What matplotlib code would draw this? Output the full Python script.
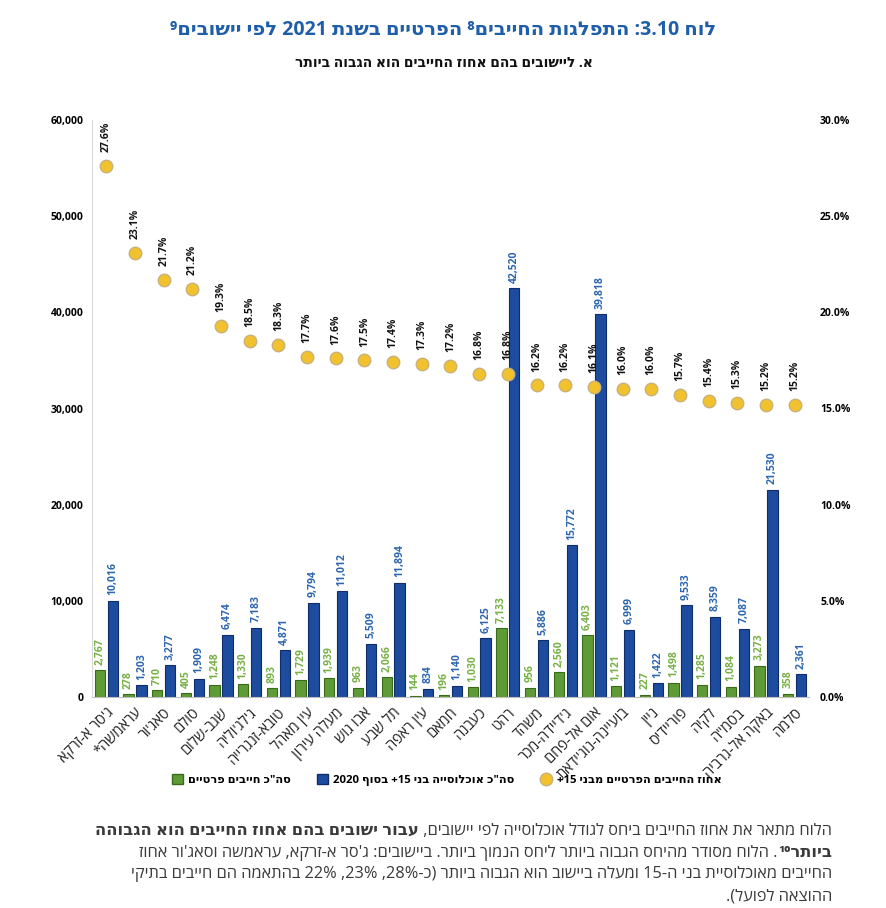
import re
import matplotlib
matplotlib.use("Agg")
import matplotlib.pyplot as plt
from matplotlib.lines import Line2D
from matplotlib.patches import Patch
from matplotlib.ticker import FuncFormatter, MultipleLocator

plt.rcParams['font.family'] = ['Open Sans', 'DejaVu Sans']

# נתונים
towns = ["ג'סר א-זרקא", "עראמשה*", "סאג'ור", "סולם", "שגב-שלום", "ג'לג'וליה",
         "טובא-זנגרייה", "עין מאהל", "מעלה עירון", "אבו גוש", "תל שבע", "עין ראפה",
         "חמאם", "כעבנה", "רהט", "משהד", "ג'דיידה-מכר", "אום אל-פחם",
         "בועיינה-נוג'ידאת", "ניין", "פוריידיס", "לקיה", "בסמ\"ה",
         "באקה אל-גרביה", "סלמה"]
debtors = [2767, 278, 710, 405, 1248, 1330, 893, 1729, 1939, 963, 2066, 144,
           196, 1030, 7133, 956, 2560, 6403, 1121, 227, 1498, 1285, 1084, 3273, 358]
population = [10016, 1203, 3277, 1909, 6474, 7183, 4871, 9794, 11012, 5509, 11894, 834,
              1140, 6125, 42520, 5886, 15772, 39818, 6999, 1422, 9533, 8359, 7087, 21530, 2361]
pct = [27.6, 23.1, 21.7, 21.2, 19.3, 18.5, 18.3, 17.7, 17.6, 17.5, 17.4, 17.3,
       17.2, 16.8, 16.8, 16.2, 16.2, 16.1, 16.0, 16.0, 15.7, 15.4, 15.3, 15.2, 15.2]

GREEN = "#5e9a36"
GREEN_EDGE = "#3a6b1c"
GREEN_TXT = "#78b146"
BLUE = "#1d4c9e"
BLUE_EDGE = "#0e2d6a"
BLUE_TXT = "#2d66b0"
YELLOW = "#f2c12e"

MIRROR = str.maketrans("()[]", ")(][")
DIG = "0-9\u00b9\u00b2\u00b3\u2070-\u2079"
NUM = re.compile(rf"%?[{DIG}](?:[{DIG}.,]*[{DIG}])?")


def rtl(s):
    # matplotlib doesn't do bidi - reverse hebrew, keep numbers as they are
    r = s[::-1].translate(MIRROR)
    return NUM.sub(lambda m: m.group(0)[::-1], r)


fig = plt.figure(figsize=(8.87, 9.08), dpi=100)
ax = fig.add_axes([92 / 887, 1 - 697 / 908, (809 - 92) / 887, 577 / 908])

x = list(range(len(towns)))
w = 0.36
off = 0.225
xg = [i - off for i in x]
xb = [i + off for i in x]
ax.bar(xg, debtors, width=w, color=GREEN, edgecolor=GREEN_EDGE, linewidth=0.8, zorder=2)
ax.bar(xb, population, width=w, color=BLUE, edgecolor=BLUE_EDGE, linewidth=0.8, zorder=2)

for xi, v in zip(xg, debtors):
    ax.annotate(f"{v:,}", (xi, v), xytext=(0, 4), textcoords="offset points",
                rotation=90, ha="center", va="bottom", fontsize=7.5,
                fontweight="bold", color=GREEN_TXT)
for xi, v in zip(xb, population):
    ax.annotate(f"{v:,}", (xi, v), xytext=(0, 4), textcoords="offset points",
                rotation=90, ha="center", va="bottom", fontsize=7.5,
                fontweight="bold", color=BLUE_TXT)

ax.set_xlim(-0.5, len(towns) - 0.5)
ax.set_ylim(0, 60000)
ax.yaxis.set_major_locator(MultipleLocator(10000))
ax.yaxis.set_major_formatter(FuncFormatter(lambda v, p: f"{int(v):,}"))
ax.set_xticks(x)
ax.set_xticklabels([rtl(t) for t in towns], rotation=45, ha="right",
                   rotation_mode="anchor", fontsize=10.5, color="#222222")
ax.tick_params(axis="x", length=0, pad=6)
ax.tick_params(axis="y", length=0, pad=6, labelsize=7.5)
for lab in ax.get_yticklabels():
    lab.set_fontweight("bold")
for s in ["top", "right"]:
    ax.spines[s].set_visible(False)
ax.spines["left"].set_color("#d9d9d9")
ax.spines["bottom"].set_color("#bfbfbf")

ax2 = ax.twinx()
ax2.set_ylim(0, 30)
ax2.yaxis.set_major_locator(MultipleLocator(5))
ax2.yaxis.set_major_formatter(FuncFormatter(lambda v, p: f"{v:.1f}%"))
ax2.tick_params(axis="y", length=0, pad=8, labelsize=7.5)
for lab in ax2.get_yticklabels():
    lab.set_fontweight("bold")
for s in ax2.spines.values():
    s.set_visible(False)
ax2.plot(x, pct, linestyle="none", marker="o", markersize=9,
         markerfacecolor=YELLOW, markeredgecolor="#c9b27a", markeredgewidth=1.0, zorder=4)
for xi, v in zip(x, pct):
    ax2.annotate(f"{v:.1f}%", (xi, v), xytext=(0, 10), textcoords="offset points",
                 rotation=90, ha="center", va="bottom", fontsize=7.5,
                 fontweight="bold", color="#111111")

# כותרות
fig.text(0.5, 1 - 30 / 908, rtl("לוח 3.10: התפלגות החייבים⁸ הפרטיים בשנת 2021 לפי יישובים⁹"),
         ha="center", va="center", fontsize=14, fontweight="bold", color="#1f5ea8")
fig.text(0.5, 1 - 63 / 908, rtl("א. ליישובים בהם אחוז החייבים הוא הגבוה ביותר"),
         ha="center", va="center", fontsize=10, fontweight="bold", color="#111111")

# מקרא
handles = [
    Patch(facecolor=GREEN, edgecolor=GREEN_EDGE),
    Patch(facecolor=BLUE, edgecolor=BLUE_EDGE),
    Line2D([], [], linestyle="none", marker="o", markersize=9,
           markerfacecolor=YELLOW, markeredgecolor="#c9b27a"),
]
labels = [rtl('סה"כ חייבים פרטיים'), rtl('סה"כ אוכלוסייה בני 15+ בסוף 2020'),
          rtl("אחוז החייבים הפרטיים מבני 15+")]
leg = fig.legend(handles, labels, loc="center", bbox_to_anchor=(447 / 887, 1 - 780 / 908),
                 ncol=3, frameon=False, fontsize=8.2, handlelength=0.9, handleheight=0.9,
                 handletextpad=0.5, columnspacing=2.3)
for t in leg.get_texts():
    t.set_fontweight("bold")

# הערה בתחתית
lines = [
    [("הלוח מתאר את אחוז החייבים ביחס לגודל אוכלוסייה לפי יישובים, ", "normal"),
     ("עבור ישובים בהם אחוז החייבים הוא הגבוהה", "bold")],
    [("ביותר¹⁰", "bold"),
     (". הלוח מסודר מהיחס הגבוה ביותר ליחס הנמוך ביותר. ביישובים: ג'סר א-זרקא, עראמשה וסאג'ור אחוז", "normal")],
    [("החייבים מאוכלוסיית בני ה-15 ומעלה ביישוב הוא הגבוה ביותר (כ-28%, 23%, 22% בהתאמה הם חייבים בתיקי", "normal")],
    [("ההוצאה לפועל).", "normal")],
]
renderer = fig.canvas.get_renderer()
inv = fig.transFigure.inverted()
y0 = 831
for k, segs in enumerate(lines):
    xr = 832 / 887
    y = 1 - (y0 + 21.7 * k) / 908
    for txt, wt in segs:
        t = fig.text(xr, y, rtl(txt), ha="right", va="center", fontsize=11.8,
                     fontweight=wt, color="#3a3a3a")
        bb = t.get_window_extent(renderer)
        xr = inv.transform((bb.x0, bb.y0))[0]

fig.savefig("out.png", dpi=100)
